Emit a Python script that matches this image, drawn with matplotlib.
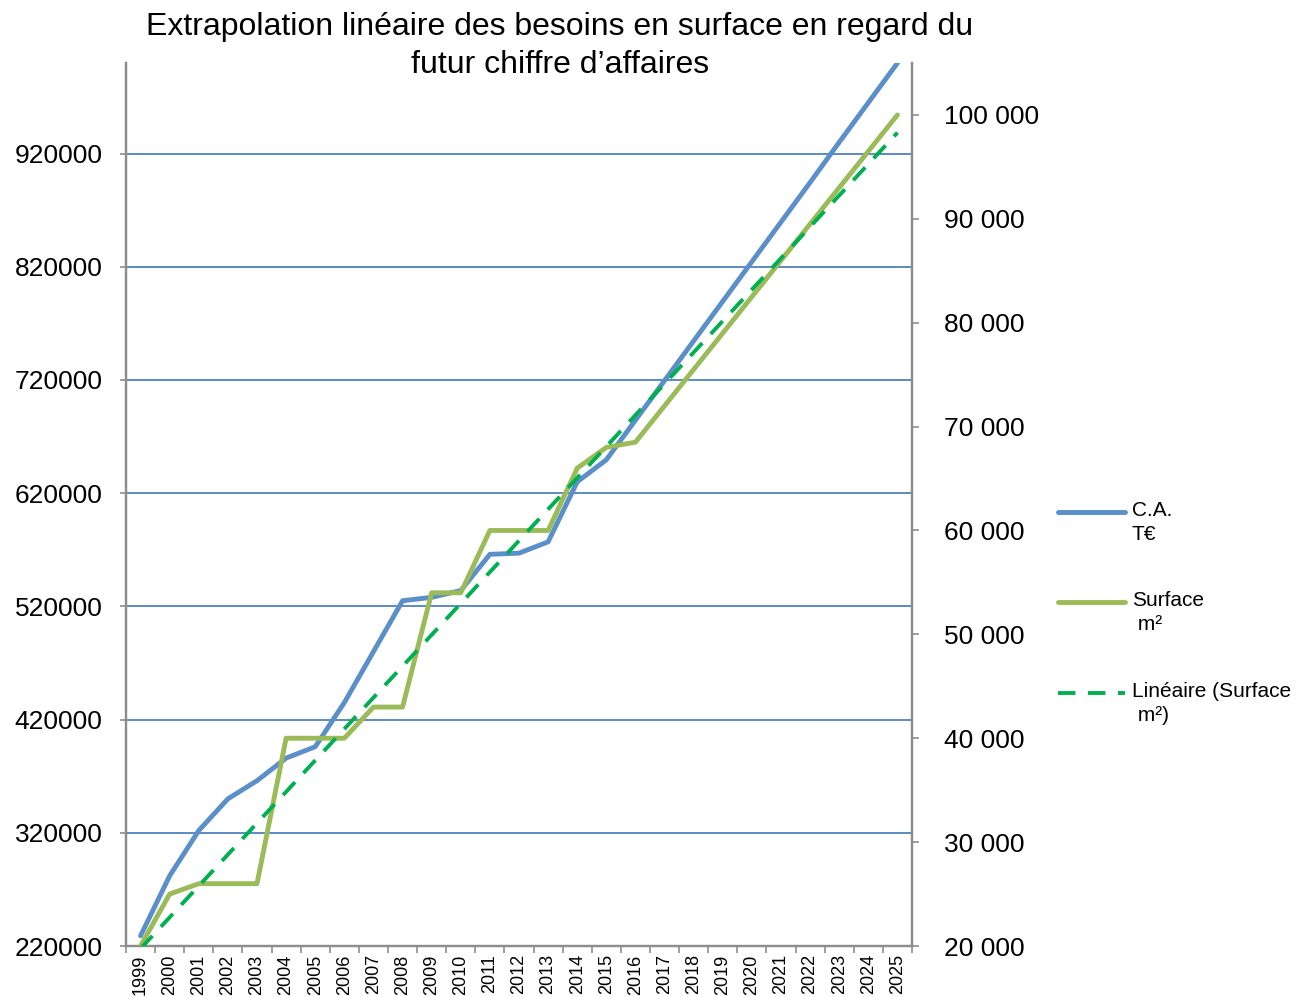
import matplotlib

matplotlib.use("Agg")
import matplotlib.pyplot as plt  # noqa: E402
import numpy as np  # noqa: E402
from matplotlib.lines import Line2D  # noqa: E402
from matplotlib.ticker import FuncFormatter  # noqa: E402

plt.rcParams["font.family"] = ["Liberation Sans", "DejaVu Sans"]

# ── données ──────────────────────────────────────────────────────────────────
years = [str(y) for y in range(1999, 2026)]
ca_keur = [229000, 282000, 322000, 350000, 366000, 386000, 396000, 435000, 480000,
           525000, 528000, 534000, 566000, 567000, 577000, 630000, 649500, 684500,
           719500, 754500, 789500, 824500, 859500, 894500, 930000, 965000, 1000000]
surface_m2 = [20000, 25000, 26000, 26000, 26000, 40000, 40000, 40000, 43000,
              43000, 54000, 54000, 60000, 60000, 60000, 66000, 68000, 68500,
              72000, 75500, 79000, 82500, 86000, 89500, 93000, 96500, 100000]
left_ticks = list(range(220000, 1000001 - 80000, 100000))
right_ticks = list(range(20000, 100001, 10000))

BLUE = "#5B8FC9"
GREEN = "#9BBB59"
TREND = "#00B050"
GRID = "#4F81BD"
AXIS = "#8C8C8C"
DASH = (0, (4.5, 3.2))

x = np.arange(len(years))
# courbe de tendance linéaire (comme Excel) sur la surface
coef = np.polyfit(x, surface_m2, 1)
trend = np.polyval(coef, x)

fig = plt.figure(figsize=(12.99, 9.97), dpi=100)
ax = fig.add_axes([126 / 1299, 1 - 946 / 997, (912 - 126) / 1299, (946 - 63) / 997])
ax2 = ax.twinx()

ax.plot(x, ca_keur, color=BLUE, lw=3.5, solid_capstyle="round", zorder=3)
ax2.plot(x, surface_m2, color=GREEN, lw=3.5, solid_capstyle="round", zorder=3)
ax2.plot(x, trend, color=TREND, lw=2.8, ls=DASH, zorder=4)

ax.set_xlim(-0.5, len(years) - 0.5)
ax.set_ylim(220000, 1000000)
ax2.set_ylim(20000, 105000)

ax.set_yticks(left_ticks)
ax.set_yticklabels([str(v) for v in left_ticks])
ax2.set_yticks(right_ticks)
ax2.yaxis.set_major_formatter(FuncFormatter(lambda v, p: f"{int(v):,}".replace(",", " ")))

ax.set_xticks(x)
ax.set_xticklabels(years, rotation=90, fontsize=13)
ax.set_xticks(np.arange(-0.5, len(years)), minor=True)
ax.tick_params(axis="x", which="major", length=0, pad=6)
ax.tick_params(axis="x", which="minor", length=5, color=AXIS, width=1.2)
ax.tick_params(axis="y", length=4, color=AXIS, width=1.2, labelsize=19, pad=13)
ax2.tick_params(axis="y", length=5, color=AXIS, width=1.2, labelsize=19, pad=18)

ax.yaxis.grid(True, color=GRID, lw=1.3)
ax.set_axisbelow(True)

for a in (ax, ax2):
    a.spines["top"].set_visible(False)
    for s in ("left", "right", "bottom"):
        a.spines[s].set_color(AXIS)
        a.spines[s].set_linewidth(1.6)
ax.spines["bottom"].set_zorder(2.5)

fig.text(560 / 1299, 1 - 46 / 997,
         "Extrapolation linéaire des besoins en surface en regard du\nfutur chiffre d\u2019affaires",
         ha="center", va="center", fontsize=23, linespacing=1.38)

# ── légende à droite ─────────────────────────────────────────────────────────
entries = [
    (BLUE, "-", 3.5, "C.A.\nT€", 512),
    (GREEN, "-", 3.5, "Surface\n m²", 602),
    (TREND, DASH, 2.8, "Linéaire (Surface\n m²)", 693),
]
for color, ls, lw, label, ypix in entries:
    yf = 1 - ypix / 997
    fig.add_artist(Line2D([1058 / 1299, 1125 / 1299], [yf, yf], transform=fig.transFigure,
                          color=color, ls=ls, lw=lw, solid_capstyle="round"))
    fig.text(1132 / 1299, yf + 11 / 997, label, ha="left", va="top", fontsize=15,
             linespacing=1.3)

fig.savefig("out.png", dpi=100)
